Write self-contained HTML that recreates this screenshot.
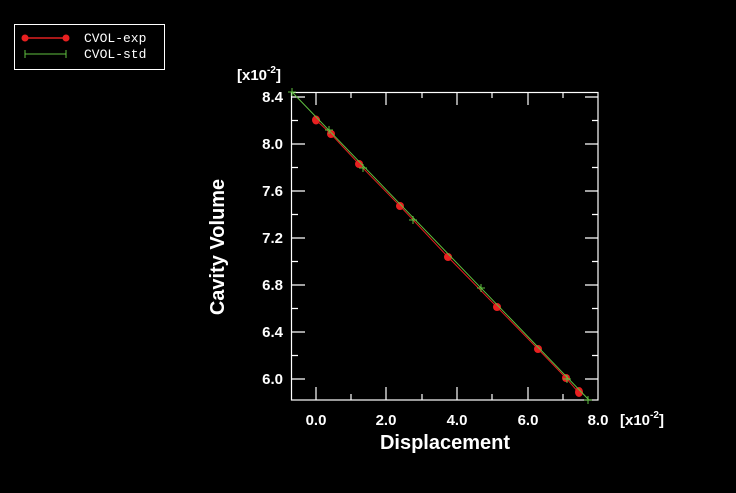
<!DOCTYPE html>
<html><head><meta charset="utf-8"><style>
html,body{margin:0;padding:0;background:#000;}
svg{display:block}
text{font-family:"Liberation Sans",sans-serif;fill:#fff;font-weight:bold}
.m{font-family:"Liberation Mono",monospace;font-weight:normal;font-size:13px}
</style></head><body>
<svg width="736" height="493" viewBox="0 0 736 493">
<rect width="736" height="493" fill="#000"/>
<rect x="14.5" y="24.5" width="150" height="45" fill="none" stroke="#fff" stroke-width="1"/>
<line x1="25" y1="38" x2="66" y2="38" stroke="#e02020" stroke-width="1.5"/>
<circle cx="25" cy="38" r="3.5" fill="#e82020"/><circle cx="66" cy="38" r="3.5" fill="#e82020"/>
<line x1="25" y1="54" x2="66" y2="54" stroke="#60c040" stroke-width="1"/>
<line x1="25" y1="50" x2="25" y2="58" stroke="#60c040"/><line x1="66" y1="50" x2="66" y2="58" stroke="#60c040"/>
<text class="m" x="84" y="42">CVOL-exp</text>
<text class="m" x="84" y="58">CVOL-std</text>
<rect x="291.5" y="92.5" width="306.5" height="307.5" fill="none" stroke="#fff" stroke-width="1.2"/>
<g stroke="#fff" stroke-width="1.2">
<path d="M292 379h13M292 332h13M292 285h13M292 238h13M292 191h13M292 144h13M292 97h13"/>
<path d="M598 379h-13M598 332h-13M598 285h-13M598 238h-13M598 191h-13M598 144h-13M598 97h-13"/>
<path d="M292 355.5h6M292 308.5h6M292 261.5h6M292 214.5h6M292 167.5h6M292 120.5h6"/>
<path d="M598 355.5h-6M598 308.5h-6M598 261.5h-6M598 214.5h-6M598 167.5h-6M598 120.5h-6"/>
<path d="M316 400v-13M386 400v-13M457 400v-13M528 400v-13"/>
<path d="M316 92v13M386 92v13M457 92v13M528 92v13"/>
<path d="M351 400v-6M422 400v-6M492 400v-6M563 400v-6"/>
<path d="M351 92v6M422 92v6M492 92v6M563 92v6"/>
</g>
<g font-size="15" text-anchor="end">
<text x="283" y="384">6.0</text><text x="283" y="337">6.4</text><text x="283" y="290">6.8</text>
<text x="283" y="243">7.2</text><text x="283" y="196">7.6</text><text x="283" y="149">8.0</text><text x="283" y="102">8.4</text>
</g>
<text x="237" y="80" font-size="15">[x10<tspan font-size="10" dy="-7">-2</tspan><tspan dy="7">]</tspan></text>
<g font-size="15" text-anchor="middle">
<text x="316" y="425">0.0</text><text x="386" y="425">2.0</text><text x="457" y="425">4.0</text>
<text x="528" y="425">6.0</text><text x="598" y="425">8.0</text>
</g>
<text x="620" y="425" font-size="15">[x10<tspan font-size="10" dy="-7">-2</tspan><tspan dy="7">]</tspan></text>
<text x="445" y="449" font-size="20" text-anchor="middle">Displacement</text>
<text transform="translate(224,247) rotate(-90)" font-size="20" text-anchor="middle">Cavity Volume</text>
<polyline points="316,120 331,134 359,164 400,206 448,257 497,307 538,349 566,378 579,393" fill="none" stroke="#e02020" stroke-width="1"/>
<g fill="#e82020">
<ellipse cx="316" cy="120" rx="4" ry="4.5"/><ellipse cx="331" cy="134" rx="4" ry="4"/><ellipse cx="359" cy="164" rx="4" ry="4"/>
<ellipse cx="400" cy="206" rx="4" ry="4"/><ellipse cx="448" cy="257" rx="4" ry="4"/><ellipse cx="497" cy="307" rx="4" ry="4"/>
<ellipse cx="538" cy="349" rx="4" ry="4"/><ellipse cx="566" cy="378" rx="4" ry="4"/><ellipse cx="579" cy="392" rx="4" ry="5"/>
</g>
<line x1="292" y1="92" x2="589" y2="400" stroke="#60c040" stroke-width="1"/>
<g stroke="#60c040" stroke-width="1">
<path d="M288 92h8M292 88v8"/><path d="M325 130h8M329 126v8"/><path d="M359 168h8M363 164v8"/>
<path d="M409 220h8M413 216v8"/><path d="M477 288h8M481 284v8"/><path d="M563 379h8M567 375v8"/>
<path d="M584 400h8M588 396v8"/>
</g>
</svg>
</body></html>
